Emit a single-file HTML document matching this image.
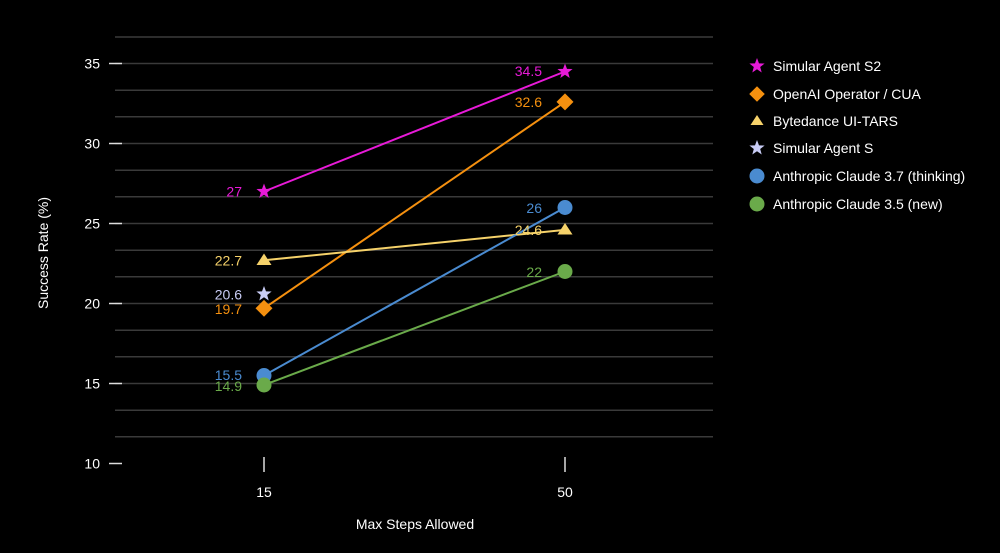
<!DOCTYPE html>
<html><head><meta charset="utf-8"><style>
html,body{margin:0;padding:0;background:#000;}
svg{display:block;font-family:"Liberation Sans",sans-serif;}
</style></head><body>
<svg width="1000" height="553" viewBox="0 0 1000 553" xmlns="http://www.w3.org/2000/svg">
<rect width="1000" height="553" fill="#000"/>
<g stroke="#3a3a3a" stroke-width="1.5">
<line x1="115" x2="713" y1="37" y2="37"/>
<line x1="115" x2="713" y1="63.5" y2="63.5"/>
<line x1="115" x2="713" y1="90.2" y2="90.2"/>
<line x1="115" x2="713" y1="116.8" y2="116.8"/>
<line x1="115" x2="713" y1="143.5" y2="143.5"/>
<line x1="115" x2="713" y1="170.2" y2="170.2"/>
<line x1="115" x2="713" y1="196.8" y2="196.8"/>
<line x1="115" x2="713" y1="223.5" y2="223.5"/>
<line x1="115" x2="713" y1="250.2" y2="250.2"/>
<line x1="115" x2="713" y1="276.8" y2="276.8"/>
<line x1="115" x2="713" y1="303.5" y2="303.5"/>
<line x1="115" x2="713" y1="330.2" y2="330.2"/>
<line x1="115" x2="713" y1="356.8" y2="356.8"/>
<line x1="115" x2="713" y1="383.5" y2="383.5"/>
<line x1="115" x2="713" y1="410.2" y2="410.2"/>
<line x1="115" x2="713" y1="436.8" y2="436.8"/>
</g>
<g stroke="#ddd" stroke-width="1.5">
<line x1="109" x2="122" y1="63.5" y2="63.5"/>
<line x1="109" x2="122" y1="143.5" y2="143.5"/>
<line x1="109" x2="122" y1="223.5" y2="223.5"/>
<line x1="109" x2="122" y1="303.5" y2="303.5"/>
<line x1="109" x2="122" y1="383.5" y2="383.5"/>
<line x1="109" x2="122" y1="463.5" y2="463.5"/>
<line x1="264" x2="264" y1="457" y2="472"/>
<line x1="565" x2="565" y1="457" y2="472"/>
</g>
<g fill="#fff" font-size="14" text-anchor="end">
<text x="100" y="68.5">35</text><text x="100" y="148.5">30</text><text x="100" y="228.5">25</text>
<text x="100" y="308.5">20</text><text x="100" y="388.5">15</text><text x="100" y="468.5">10</text>
</g>
<g fill="#fff" font-size="14" text-anchor="middle">
<text x="264" y="497">15</text><text x="565" y="497">50</text>
<text x="415" y="529">Max Steps Allowed</text>
<text transform="translate(48,253) rotate(-90)">Success Rate (%)</text>
</g>
<g stroke-width="2" fill="none">
<line x1="264" y1="191.5" x2="565" y2="71.5" stroke="#e81ad8"/>
<line x1="264" y1="308.3" x2="565" y2="101.9" stroke="#f5900f"/>
<line x1="264" y1="260.3" x2="565" y2="229.9" stroke="#f6d26a"/>
<line x1="264" y1="375.5" x2="565" y2="207.5" stroke="#4a8bd0"/>
<line x1="264" y1="385" x2="565" y2="271.5" stroke="#6aaa4a"/>
</g>
<defs>
<polygon id="star" points="0,-8 2,-2.6 7.6,-2.5 3.2,1 4.7,6.5 0,3.3 -4.7,6.5 -3.2,1 -7.6,-2.5 -2,-2.6"/>
</defs>
<use href="#star" x="264" y="191.5" fill="#e81ad8"/>
<use href="#star" x="565" y="71.5" fill="#e81ad8"/>
<use href="#star" x="264" y="294" fill="#c8ccf5"/>
<rect x="258" y="302.3" width="12" height="12" transform="rotate(45 264 308.3)" fill="#f5900f"/>
<rect x="559" y="95.9" width="12" height="12" transform="rotate(45 565 101.9)" fill="#f5900f"/>
<polygon points="264,253.5 271.5,265 256.5,265" fill="#f6d26a"/>
<polygon points="565,223 572.5,234.5 557.5,234.5" fill="#f6d26a"/>
<circle cx="264" cy="375.5" r="7.5" fill="#4a8bd0"/>
<circle cx="565" cy="207.5" r="7.5" fill="#4a8bd0"/>
<circle cx="264" cy="385" r="7.5" fill="#6aaa4a"/>
<circle cx="565" cy="271.5" r="7.5" fill="#6aaa4a"/>
<g font-size="14" text-anchor="end">
<text x="242" y="196.5" fill="#e81ad8">27</text>
<text x="542" y="76" fill="#e81ad8">34.5</text>
<text x="242" y="265.5" fill="#f6d26a">22.7</text>
<text x="542" y="235" fill="#f6d26a">24.6</text>
<text x="242" y="299.5" fill="#c8ccf5">20.6</text>
<text x="242" y="314" fill="#f5900f">19.7</text>
<text x="542" y="107" fill="#f5900f">32.6</text>
<text x="242" y="380" fill="#4a8bd0">15.5</text>
<text x="542" y="213" fill="#4a8bd0">26</text>
<text x="242" y="391" fill="#6aaa4a">14.9</text>
<text x="542" y="277" fill="#6aaa4a">22</text>
</g>
<use href="#star" x="757" y="66" fill="#e81ad8" transform="translate(-189.25 16.5) scale(1.25) translate(0 0)" style="display:none"/>
<g transform="translate(757,66)"><use href="#star" fill="#e81ad8"/></g>
<rect x="751.5" y="88.5" width="11" height="11" transform="rotate(45 757 94)" fill="#f5900f"/>
<polygon points="757,115 763.5,125 750.5,125" fill="#f6d26a"/>
<g transform="translate(757,148)"><use href="#star" fill="#c8ccf5"/></g>
<circle cx="757" cy="176" r="7.5" fill="#4a8bd0"/>
<circle cx="757" cy="204" r="7.5" fill="#6aaa4a"/>
<g fill="#fff" font-size="14">
<text x="773" y="71">Simular Agent S2</text>
<text x="773" y="99">OpenAI Operator / CUA</text>
<text x="773" y="126">Bytedance UI-TARS</text>
<text x="773" y="153">Simular Agent S</text>
<text x="773" y="181">Anthropic Claude 3.7 (thinking)</text>
<text x="773" y="209">Anthropic Claude 3.5 (new)</text>
</g>
</svg>
</body></html>
